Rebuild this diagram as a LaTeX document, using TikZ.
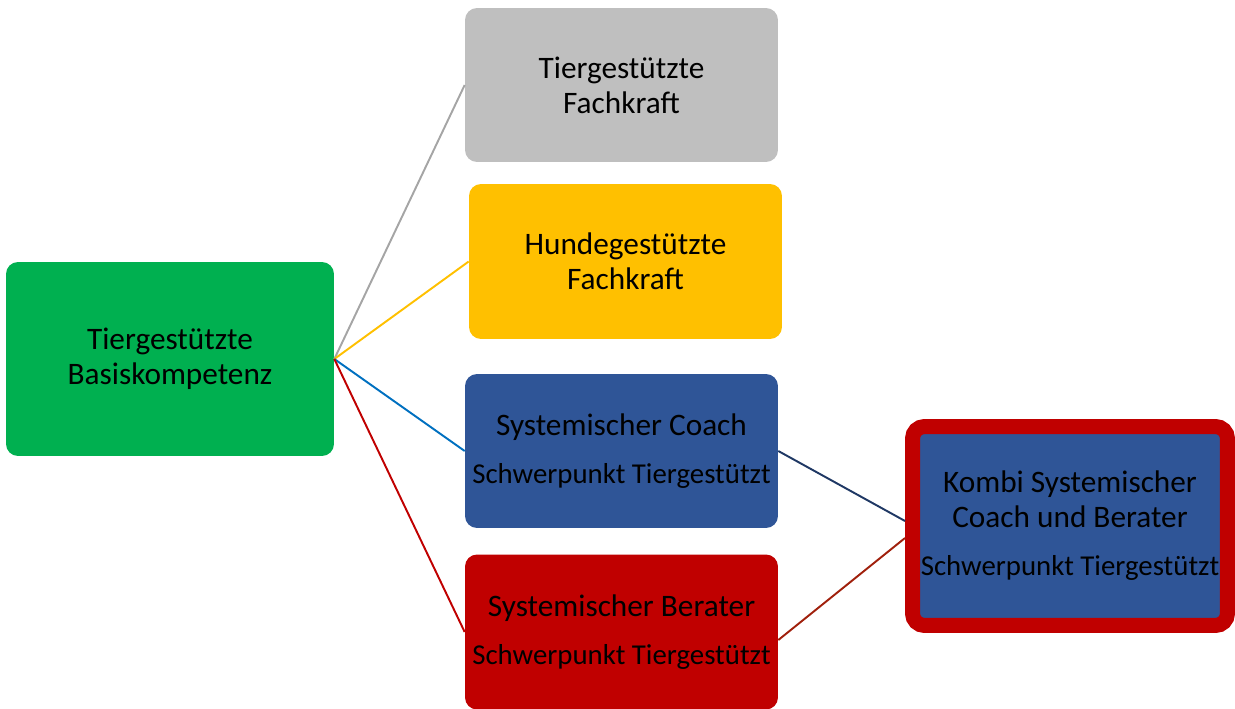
\documentclass[tikz,border=0pt]{standalone}
\usepackage{fontspec}
\setmainfont{Carlito}
\usepackage{xcolor}
\usetikzlibrary{positioning}
\definecolor{boxgreen}{HTML}{00B050}
\definecolor{boxgray}{HTML}{BFBFBF}
\definecolor{boxyellow}{HTML}{FFC000}
\definecolor{boxblue}{HTML}{2F5597}
\definecolor{boxred}{HTML}{C00000}
\definecolor{linegray}{HTML}{A5A5A5}
\definecolor{lineblue}{HTML}{0070C0}
\definecolor{linenavy}{HTML}{1F3864}
\definecolor{linebrown}{HTML}{A0200C}
\tikzset{
box/.style={rectangle, rounded corners=0.24cm, draw=none, align=center, text=black,
  minimum width=6.26cm, minimum height=3.08cm, inner sep=0pt,
  font=\fontsize{17.8}{19.9}\selectfont},
link/.style={line width=1.1pt}
}
\newcommand{\subline}[1]{\\[7.5pt]{\fontsize{16.4}{19.9}\selectfont #1}}

\begin{document}
\begin{tikzpicture}[x=0.02cm, y=-0.02cm]
  \useasboundingbox (0,0) rectangle (1235,708);
  \node[box, fill=boxgreen, minimum width=6.56cm, minimum height=3.88cm] (basis) at (170,359) {Tiergestützte\\Basiskompetenz};
  \node[box, fill=boxgray] (fachkraft) at (621.5,85) {Tiergestützte\\Fachkraft};
  \node[box, fill=boxyellow, minimum height=3.1cm] (hund) at (625.5,261.5) {Hundegestützte\\Fachkraft};
  \node[box, fill=boxblue] (coach) at (621.5,451) {Systemischer Coach\subline{Schwerpunkt Tiergestützt}};
  \node[box, fill=boxred, minimum height=3.1cm] (berater) at (621.5,632) {Systemischer Berater\subline{Schwerpunkt Tiergestützt}};
  \node[box, fill=boxblue, draw=boxred, line width=0.3cm, minimum width=6.3cm, minimum height=3.98cm] (kombi) at (1070,526) {Kombi Systemischer\\Coach und Berater\subline{Schwerpunkt Tiergestützt}};
  \draw[link, linegray] (basis.east) -- (fachkraft.west);
  \draw[link, boxyellow] (basis.east) -- (hund.west);
  \draw[link, lineblue] (basis.east) -- (coach.west);
  \draw[link, boxred] (basis.east) -- (berater.west);
  \draw[link, linenavy] (coach.east) -- ([yshift=0.1cm]kombi.west);
  \draw[link, linebrown] ([yshift=-0.16cm]berater.east) -- ([yshift=-0.24cm]kombi.west);
\end{tikzpicture}
\end{document}
